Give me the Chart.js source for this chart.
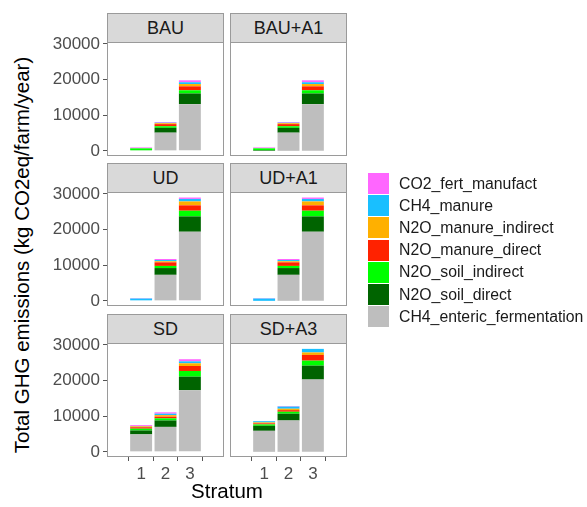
<!DOCTYPE html>
<html>
<head>
<meta charset="utf-8">
<script src="https://cdn.jsdelivr.net/npm/chart.js@4.4.1/dist/chart.umd.min.js"></script>
<style>
  html, body { margin: 0; padding: 0; background: #fff; }
  body { width: 587px; height: 507px; overflow: hidden; font-family: "Liberation Sans", Arial, sans-serif; }
  #fig { position: relative; width: 587px; height: 507px; }
  .strip { position: absolute; box-sizing: border-box; background: #D9D9D9; border: 1px solid #9A9A9A;
           color: #1A1A1A; font-size: 18px; display: flex; align-items: center; justify-content: center; }
  canvas { position: absolute; }
  .legend-key { position: absolute; width: 21px; height: 21px; }
  .legend-text { position: absolute; font-size: 15.8px; color: #1A1A1A; white-space: nowrap; line-height: 22px; }
  .axis-title { position: absolute; font-size: 20.5px; color: #000; white-space: nowrap; }
</style>
</head>
<body>
<div id="fig"></div>
<script>
// Stratum categories on the x axis and the y tick values
const strata = [1, 2, 3];
const yTicks = [0, 10000, 20000, 30000];

// Facet panels, in reading order (two per row)
const scenarios = ['BAU', 'BAU+A1', 'UD', 'UD+A1', 'SD', 'SD+A3'];

// Emission sources, bottom of the stack first
const sources = ['CH4_enteric_fermentation', 'N2O_soil_direct', 'N2O_soil_indirect',
                 'N2O_manure_direct', 'N2O_manure_indirect', 'CH4_manure', 'CO2_fert_manufact'];
const sourceColors = ['#BEBEBE', '#006400', '#00FF00', '#FF2200', '#FFB000', '#19BFFF', '#FF66FF'];

// kg CO2eq/farm/year per stratum [1, 2, 3], one row per scenario
const CH4_enteric_fermentation = [
  [0, 5100, 13100], [0, 5100, 13100],
  [0, 7300, 19400], [0, 7300, 19400],
  [4900, 7000, 17300], [5900, 8800, 20300]
];
const N2O_soil_direct = [
  [150, 1350, 3000], [150, 1350, 3000],
  [0, 1900, 4300], [0, 1900, 4300],
  [1100, 1800, 3800], [1400, 1900, 3900]
];
const N2O_soil_indirect = [
  [550, 450, 900], [550, 450, 900],
  [0, 600, 1600], [0, 600, 1600],
  [500, 600, 1600], [400, 550, 1400]
];
const N2O_manure_direct = [
  [0, 600, 1100], [0, 600, 1100],
  [0, 1000, 1500], [0, 1000, 1500],
  [400, 450, 1400], [300, 450, 1600]
];
const N2O_manure_indirect = [
  [0, 250, 650], [0, 250, 650],
  [0, 300, 1100], [0, 300, 1100],
  [250, 450, 750], [250, 400, 700]
];
const CH4_manure = [
  [0, 150, 500], [0, 150, 500],
  [650, 350, 700], [650, 350, 700],
  [100, 400, 550], [350, 600, 1000]
];
const CO2_fert_manufact = [
  [250, 200, 550], [250, 200, 550],
  [100, 300, 400], [100, 300, 400],
  [250, 400, 600], [0, 150, 0]
];
const sourceValues = [CH4_enteric_fermentation, N2O_soil_direct, N2O_soil_indirect,
                      N2O_manure_direct, N2O_manure_indirect, CH4_manure, CO2_fert_manufact];

// Shared y range (fixed scales across facets, with a little room above and below)
const Y_MIN = -1450, Y_MAX = 30550;

// Grid geometry
const colLeft = [107, 230];
const PANEL_W = 117;
const stripTop = [13, 163, 314];
const STRIP_H = 29;
const PANEL_H = 114;
const Y_AXIS_W = 67, X_AXIS_H = 32;
const PAD = 20;

const fig = document.getElementById('fig');
const FONT = '"Liberation Sans", Arial, sans-serif';

// Frame around each plotting area
const panelBorder = {
  id: 'panelBorder',
  afterDraw(chart) {
    const a = chart.chartArea, ctx = chart.ctx;
    ctx.save();
    ctx.strokeStyle = '#9A9A9A';
    ctx.lineWidth = 1;
    ctx.strokeRect(a.left + 0.5, a.top + 0.5, a.right - a.left - 1, a.bottom - a.top - 1);
    ctx.restore();
  }
};

scenarios.forEach((name, idx) => {
  const col = idx % 2, row = Math.floor(idx / 2);
  const px = colLeft[col], sy = stripTop[row], py = sy + STRIP_H;

  const strip = document.createElement('div');
  strip.className = 'strip';
  strip.style.left = px + 'px';
  strip.style.top = sy + 'px';
  strip.style.width = PANEL_W + 'px';
  strip.style.height = (STRIP_H + 1) + 'px';
  strip.textContent = name;
  fig.appendChild(strip);

  const showY = col === 0, showX = row === 2;
  const ML = showY ? Y_AXIS_W : PAD, MR = PAD, MT = PAD, MB = showX ? X_AXIS_H : PAD;
  const cv = document.createElement('canvas');
  const W = ML + PANEL_W + MR, H = MT + PANEL_H + MB;
  cv.width = W; cv.height = H;
  cv.style.left = (px - ML) + 'px';
  cv.style.top = (py - MT) + 'px';
  cv.style.width = W + 'px';
  cv.style.height = H + 'px';
  fig.appendChild(cv);

  const datasets = sources.map((s, k) => ({
    label: s,
    data: strata.map((st, j) => ({ x: st, y: sourceValues[k][idx][j] })),
    backgroundColor: sourceColors[k],
    borderWidth: 0,
    barPercentage: 0.9,
    categoryPercentage: 1.0
  }));

  new Chart(cv, {
    type: 'bar',
    data: { datasets },
    plugins: [panelBorder],
    options: {
      responsive: false,
      animation: false,
      devicePixelRatio: 1,
      layout: { padding: { left: showY ? 0 : PAD, right: MR, top: MT, bottom: showX ? 0 : PAD } },
      plugins: { legend: { display: false }, tooltip: { enabled: false } },
      scales: {
        x: {
          type: 'linear', min: 0.4, max: 3.6, stacked: true, display: showX,
          afterBuildTicks: s => { s.ticks = strata.map(v => ({ value: v })); },
          afterFit: s => { s.height = showX ? X_AXIS_H : 0; },
          grid: { display: true, drawOnChartArea: false, drawTicks: true, tickLength: 4, color: '#555' },
          border: { display: false },
          ticks: { color: '#4D4D4D', font: { family: FONT, size: 17 }, padding: 3, maxRotation: 0,
                   callback: v => String(v) }
        },
        y: {
          type: 'linear', min: Y_MIN, max: Y_MAX, stacked: true, display: showY,
          afterBuildTicks: s => { s.ticks = yTicks.map(v => ({ value: v })); },
          afterFit: s => { s.width = showY ? Y_AXIS_W : 0; },
          grid: { display: true, drawOnChartArea: false, drawTicks: true, tickLength: 4, color: '#555' },
          border: { display: false },
          ticks: { color: '#4D4D4D', font: { family: FONT, size: 17 }, padding: 3,
                   callback: v => String(v) }
        }
      }
    }
  });
});

// Legend, top entry is the top of the stack
const legendTop = 173, legendStep = 22.2;
sources.slice().reverse().forEach((s, i) => {
  const k = sources.length - 1 - i;
  const key = document.createElement('div');
  key.className = 'legend-key';
  key.style.left = '368px';
  key.style.top = (legendTop + i * legendStep) + 'px';
  key.style.background = sourceColors[k];
  fig.appendChild(key);
  const txt = document.createElement('div');
  txt.className = 'legend-text';
  txt.style.left = '399px';
  txt.style.top = (legendTop + i * legendStep - 0.5) + 'px';
  txt.textContent = s;
  fig.appendChild(txt);
});

// Axis titles
const xt = document.createElement('div');
xt.className = 'axis-title';
xt.textContent = 'Stratum';
xt.style.left = '227px';
xt.style.top = '479px';
xt.style.transform = 'translateX(-50%)';
fig.appendChild(xt);

const yt = document.createElement('div');
yt.className = 'axis-title';
yt.textContent = 'Total GHG emissions (kg CO2eq/farm/year)';
yt.style.left = '22px';
yt.style.top = '255px';
yt.style.transform = 'translate(-50%, -50%) rotate(-90deg)';
fig.appendChild(yt);
</script>
</body>
</html>
